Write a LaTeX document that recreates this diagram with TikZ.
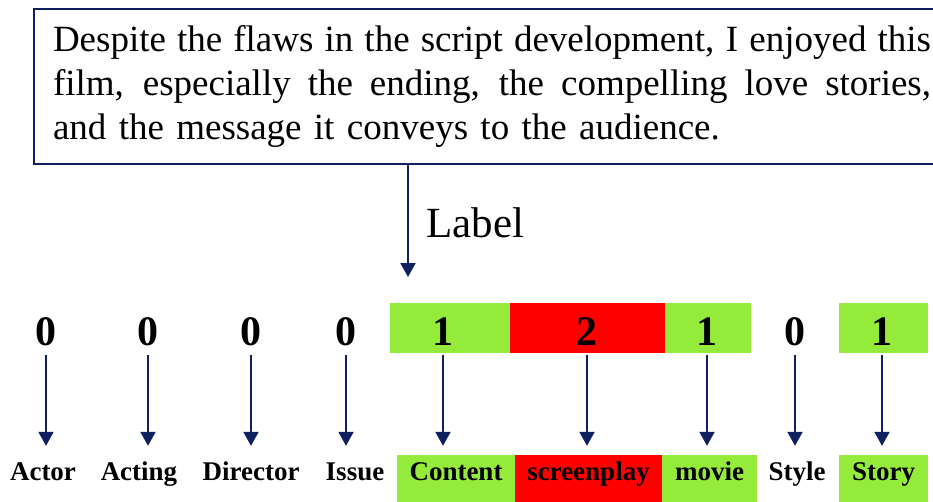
\documentclass[tikz,border=0pt]{standalone}
\usepackage{fontspec}
\setmainfont{Liberation Serif}
\usetikzlibrary{arrows.meta}

\definecolor{navy}{HTML}{0F1F5F}
\definecolor{lgreen}{HTML}{95EB3A}
\definecolor{lred}{HTML}{FF0000}

% a justified line of the review
\newcommand\fullline[1]{\leavevmode\hbox to 878pt{\spaceskip=0.25em plus 1em minus 0.1em\relax #1}}

\begin{document}
\begin{tikzpicture}[x=1pt,y=-1pt]
    \tikzstyle{arr}=[navy,line width=2pt,-{Triangle[width=15pt,length=14pt]}]
    \tikzstyle{num}=[anchor=base,inner sep=0pt,text height=42pt,text depth=8pt,font=\fontsize{42}{42}\selectfont\bfseries]
    \tikzstyle{aspect}=[anchor=base,inner sep=0pt,text height=25pt,text depth=30pt,font=\fontsize{27}{27}\selectfont\bfseries]
    \useasboundingbox (0,0) rectangle (933,501);

    % review text
    \node[draw=navy,line width=2pt,anchor=north west,inner xsep=19pt,inner ysep=0pt,
          minimum height=155pt,text width=878pt,align=left,
          font=\fontsize{37}{44}\selectfont] (review) at (33,8)
        {\fullline{Despite the flaws in the script development, I enjoyed this}\\
         \fullline{film, especially the ending, the compelling love stories,}\\
         and the message it conveys to the audience.};

    \coordinate (tip) at (408,277);
    \draw[arr] (tip |- review.south) -- (tip);
    \node[anchor=base west,inner sep=0pt,font=\fontsize{43}{43}\selectfont] (label) at (426,237) {Label};

    % coloured cells behind the numbers
    \foreach \a/\b/\c in {390/510/lgreen, 510/665/lred, 665/751/lgreen, 839/928/lgreen}
        \fill[\c] (\a,303) rectangle (\b,353);

    \foreach \i/\x/\v in {1/46/0, 2/148/0, 3/251/0, 4/346/0, 5/443/1, 6/587/2, 7/707/1, 8/795/0, 9/882/1}
        \node[num] (n\i) at (\x,345) {\v};

    \foreach \i/\x/\w/\c/\t in {1/43/10/white/Actor, 2/139/10/white/Acting, 3/251/10/white/Director,
            4/355/10/white/Issue, 5/456/118/lgreen/Content, 6/588.5/147/lred/screenplay,
            7/709.5/95/lgreen/movie, 8/797/10/white/Style, 9/883.5/89/lgreen/Story}
        \node[aspect,fill=\c,minimum width=\w pt] (l\i) at (\x,480) {\t};

    \foreach \i in {1,...,9}
        \draw[arr,shorten <=2pt,shorten >=9pt] (n\i.south) -- (n\i.south |- l\i.north);
\end{tikzpicture}
\end{document}
